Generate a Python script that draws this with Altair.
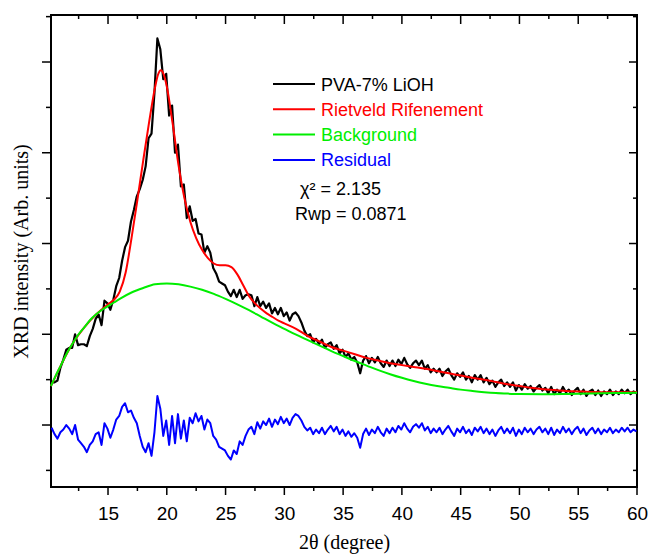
import altair as alt
import pandas as pd

# ---------------- data ----------------
# 2theta sampling grid of the measured pattern (degrees)
theta_start = 10.2
theta_step = 0.25
n_points = 200
two_theta = [round(theta_start + theta_step * i, 2) for i in range(n_points)]

# measured pattern PVA-7% LiOH (arb. units)
observed = [
    0.47, 0.47, 0.49, 0.63, 0.72, 0.83, 0.85, 0.85, 1.00, 0.88,
    0.89, 0.89, 0.87, 0.98, 1.06, 1.17, 1.22, 1.10, 1.37, 1.34,
    1.27, 1.38, 1.53, 1.62, 1.81, 1.96, 2.03, 2.24, 2.37, 2.52,
    2.60, 2.70, 2.85, 3.16, 3.21, 3.66, 4.26, 4.14, 3.81, 3.87,
    3.41, 3.52, 3.00, 3.09, 2.63, 2.65, 2.28, 2.41, 2.25, 2.27,
    2.11, 2.10, 1.90, 1.97, 1.90, 1.73, 1.67, 1.58, 1.56, 1.54,
    1.47, 1.42, 1.49, 1.41, 1.49, 1.39, 1.43, 1.44, 1.43, 1.31,
    1.41, 1.31, 1.36, 1.29, 1.34, 1.23, 1.29, 1.22, 1.29, 1.20,
    1.24, 1.15, 1.22, 1.24, 1.20, 1.13, 1.04, 0.98, 1.00, 0.91,
    0.95, 0.89, 0.94, 0.85, 0.89, 0.91, 0.84, 0.88, 0.79, 0.83,
    0.75, 0.79, 0.72, 0.75, 0.69, 0.57, 0.71, 0.76, 0.68, 0.74,
    0.69, 0.75, 0.68, 0.64, 0.71, 0.65, 0.71, 0.65, 0.72, 0.67,
    0.74, 0.67, 0.63, 0.68, 0.71, 0.66, 0.71, 0.62, 0.66, 0.58,
    0.62, 0.58, 0.62, 0.54, 0.59, 0.62, 0.55, 0.50, 0.57, 0.53,
    0.58, 0.50, 0.54, 0.47, 0.55, 0.50, 0.55, 0.47, 0.52, 0.45,
    0.49, 0.42, 0.47, 0.50, 0.43, 0.47, 0.42, 0.47, 0.38, 0.44,
    0.39, 0.45, 0.40, 0.43, 0.37, 0.41, 0.44, 0.38, 0.41, 0.35,
    0.42, 0.34, 0.39, 0.35, 0.42, 0.36, 0.39, 0.33, 0.38, 0.41,
    0.34, 0.39, 0.32, 0.37, 0.39, 0.33, 0.38, 0.32, 0.37, 0.34,
    0.39, 0.33, 0.37, 0.34, 0.39, 0.35, 0.39, 0.34, 0.37, 0.35,
]

# residual (plotted with its own offset below the pattern)
residual = [
    -0.03, -0.10, -0.15, -0.08, -0.05, 0.00, -0.04, -0.10, 0.00, -0.16,
    -0.20, -0.24, -0.30, -0.22, -0.18, -0.10, -0.08, -0.22, 0.02, -0.04,
    -0.14, -0.05, 0.06, 0.10, 0.20, 0.24, 0.14, 0.16, 0.08, 0.02,
    -0.12, -0.24, -0.30, -0.20, -0.34, -0.08, 0.32, 0.18, -0.12, 0.05,
    -0.22, 0.10, -0.20, 0.12, -0.15, 0.05, -0.18, 0.08, 0.02, 0.13,
    0.04, 0.10, -0.05, 0.06, 0.02, -0.12, -0.16, -0.24, -0.26, -0.28,
    -0.34, -0.38, -0.28, -0.32, -0.18, -0.22, -0.12, -0.05, -0.02, -0.10,
    0.03, -0.04, 0.04, 0.00, 0.07, -0.02, 0.06, 0.01, 0.09, 0.02,
    0.07, 0.00, 0.08, 0.12, 0.10, 0.05, -0.02, -0.06, -0.03, -0.10,
    -0.05, -0.09, -0.03, -0.10, -0.05, -0.01, -0.07, -0.02, -0.10, -0.05,
    -0.12, -0.07, -0.13, -0.09, -0.14, -0.25, -0.10, -0.04, -0.11, -0.05,
    -0.09, -0.02, -0.08, -0.12, -0.04, -0.09, -0.03, -0.08, -0.01, -0.05,
    0.02, -0.04, -0.08, -0.02, 0.01, -0.03, 0.02, -0.06, -0.02, -0.09,
    -0.04, -0.08, -0.03, -0.10, -0.05, -0.01, -0.07, -0.12, -0.04, -0.08,
    -0.02, -0.09, -0.05, -0.11, -0.03, -0.07, -0.02, -0.09, -0.04, -0.10,
    -0.05, -0.12, -0.06, -0.02, -0.09, -0.04, -0.09, -0.03, -0.12, -0.05,
    -0.10, -0.03, -0.08, -0.04, -0.10, -0.05, -0.02, -0.08, -0.04, -0.10,
    -0.03, -0.11, -0.05, -0.09, -0.02, -0.08, -0.04, -0.10, -0.05, -0.02,
    -0.09, -0.04, -0.11, -0.06, -0.03, -0.09, -0.04, -0.10, -0.05, -0.08,
    -0.03, -0.09, -0.05, -0.08, -0.03, -0.07, -0.03, -0.08, -0.05, -0.07,
]

# Rietveld refinement (calculated profile)
calc_theta = [10.15, 11, 12, 13, 14, 15, 15.5, 16, 16.5, 17, 17.5, 18, 18.5, 19,
              19.25, 19.5, 19.75, 20, 20.5, 21, 21.5, 22, 22.5, 23, 23.5, 24,
              24.5, 25, 25.5, 26, 26.5, 27, 27.5, 28, 28.5, 29, 29.5, 30,
              31, 32, 33, 34, 35, 36, 37, 38, 39, 40, 41, 42, 43, 44, 45, 46,
              47, 48, 49, 50, 51, 52, 53, 54, 55, 56, 57, 58, 59, 60]
calc_int = [0.43, 0.66, 0.90, 1.08, 1.22, 1.33, 1.38, 1.47, 1.68, 2.06, 2.48, 2.92, 3.34, 3.72,
            3.86, 3.91, 3.86, 3.73, 3.32, 2.86, 2.50, 2.24, 2.06, 1.93, 1.84, 1.78,
            1.76, 1.76, 1.74, 1.66, 1.54, 1.42, 1.34, 1.28, 1.23, 1.19, 1.15, 1.12,
            1.06, 0.98, 0.92, 0.86, 0.82, 0.78, 0.74, 0.71, 0.68, 0.66, 0.64, 0.62, 0.595, 0.57, 0.545, 0.52,
            0.50, 0.475, 0.45, 0.43, 0.41, 0.395, 0.385, 0.375, 0.37, 0.365, 0.362, 0.36, 0.36, 0.36]

# background
bg_theta = [10.15, 10.5, 11, 11.5, 12, 12.5, 13, 13.5, 14, 14.5, 15, 15.5, 16,
            17, 18, 19, 20, 21, 22, 23, 24, 25, 26, 27, 28, 29, 30, 31, 32, 33,
            34, 35, 36, 37, 38, 39, 40, 41, 42, 43, 44, 45, 46, 47, 48, 49, 50,
            52, 54, 56, 58, 60]
bg_int = [0.43, 0.53, 0.66, 0.79, 0.90, 1.00, 1.08, 1.16, 1.22, 1.27, 1.31, 1.35, 1.39,
          1.46, 1.51, 1.55, 1.56, 1.55, 1.525, 1.49, 1.445, 1.39, 1.33, 1.265, 1.195, 1.125, 1.06,
          0.995, 0.935, 0.875, 0.815, 0.76, 0.705, 0.655, 0.605, 0.56, 0.52, 0.485, 0.455, 0.43,
          0.41, 0.39, 0.375, 0.362, 0.352, 0.346, 0.342,
          0.34, 0.343, 0.348, 0.352, 0.356]

# axis ticks
x_major = [15, 20, 25, 30, 35, 40, 45, 50, 55, 60]
x_minor = [12.5, 17.5, 22.5, 27.5, 32.5, 37.5, 42.5, 47.5, 52.5, 57.5]
y_major = [0, 1, 2, 3, 4]
y_minor = [-0.5, 0.5, 1.5, 2.5, 3.5, 4.5]

legend_labels = ["PVA-7% LiOH", "Rietveld Rifenement", "Background", "Residual"]
legend_colors = ["#000000", "#ff0000", "#00ee00", "#0000ff"]
stats_labels = ["χ² = 2.135", "Rwp = 0.0871"]

# ---------------- chart ----------------
W, H = 586, 472
xs = alt.Scale(domain=[10.15, 60], nice=False, zero=False)
ys = alt.Scale(domain=[-0.683, 4.518], nice=False, zero=False)

obs_df = pd.DataFrame({"t": two_theta, "obs": observed, "res": residual})
calc_df = pd.DataFrame({"t": calc_theta, "calc": calc_int})
bg_df = pd.DataFrame({"t": bg_theta, "bg": bg_int})

x_axis = alt.Axis(
    values=x_major, title="2θ (degree)", format="d",
    labelFont="Liberation Sans", labelFontSize=19, labelColor="black",
    labelPadding=32, labelBaseline="alphabetic", labelFlush=False,
    ticks=False, tickSize=0, domain=False, grid=False,
    titleFont="Liberation Serif", titleFontSize=20, titleFontWeight="normal",
    titleColor="black", titleX=293, titleY=61, titleBaseline="alphabetic",
)
y_axis = alt.Axis(
    labels=False, ticks=False, tickSize=0, domain=False, grid=False,
    title="XRD intensity (Arb. units)",
    titleFont="Liberation Serif", titleFontSize=20, titleFontWeight="normal",
    titleColor="black", titleX=-24, titleY=236, titleBaseline="alphabetic",
    titleAngle=270, titleAlign="center",
)


def X(field):
    return alt.X(field, scale=xs, axis=x_axis)


def Y(field):
    return alt.Y(field, scale=ys, axis=y_axis)


obs_line = alt.Chart(obs_df).mark_line(color="black", strokeWidth=2.2, strokeJoin="round").encode(
    x=X("t:Q"), y=Y("obs:Q"))
calc_line = alt.Chart(calc_df).mark_line(color="#ff0000", strokeWidth=2, interpolate="monotone").encode(
    x=X("t:Q"), y=Y("calc:Q"))
bg_line = alt.Chart(bg_df).mark_line(color="#00ee00", strokeWidth=2, interpolate="monotone").encode(
    x=X("t:Q"), y=Y("bg:Q"))
res_line = alt.Chart(obs_df).mark_line(color="#0000ff", strokeWidth=2, strokeJoin="round").encode(
    x=X("t:Q"), y=Y("res:Q"))


def xticks(vals, y0, y1):
    return alt.Chart(pd.DataFrame({"t": vals})).mark_rule(color="black", strokeWidth=1.5).encode(
        x=X("t:Q"), y=alt.value(y0), y2=alt.value(y1))


def yticks(vals, x0, x1):
    return alt.Chart(pd.DataFrame({"obs": vals})).mark_rule(color="black", strokeWidth=1.5).encode(
        y=Y("obs:Q"), x=alt.value(x0), x2=alt.value(x1))


ticks = [
    xticks(x_major, H, H + 8), xticks(x_minor, H, H + 4),
    xticks(x_major, 0, 9), xticks(x_minor, 0, 4),
    yticks(y_major, -9, 0), yticks(y_minor, -5, 0),
    yticks(y_major, W - 8, W), yticks(y_minor, W - 4, W),
]

legend_layers = []
for k, (lab, col) in enumerate(zip(legend_labels, legend_colors)):
    ly = 69 + 25.3 * k
    d = pd.DataFrame({"label": [lab]})
    legend_layers.append(
        alt.Chart(d).mark_rule(color=col, strokeWidth=2).encode(
            x=alt.value(222), x2=alt.value(264), y=alt.value(ly)))
    legend_layers.append(
        alt.Chart(d).mark_text(align="left", baseline="alphabetic", font="Liberation Sans",
                               fontSize=18, color=col).encode(
            x=alt.value(270), y=alt.value(ly + 6.5), text="label:N"))

stats_pos = [(249, 180), (244, 205)]
for lab, (sx, sy) in zip(stats_labels, stats_pos):
    legend_layers.append(
        alt.Chart(pd.DataFrame({"label": [lab]})).mark_text(
            align="left", baseline="alphabetic", font="Liberation Sans",
            fontSize=18, color="black").encode(
            x=alt.value(sx), y=alt.value(sy), text="label:N"))

chart = alt.layer(obs_line, calc_line, bg_line, res_line, *ticks, *legend_layers).properties(
    width=W, height=H,
    autosize=alt.AutoSizeParams(type="none"),
    padding={"left": 51, "top": 15, "right": 12, "bottom": 68},
    background="white",
).configure_view(stroke="black", strokeWidth=2)

chart.save("out.html", embed_options={"renderer": "svg", "actions": False})
